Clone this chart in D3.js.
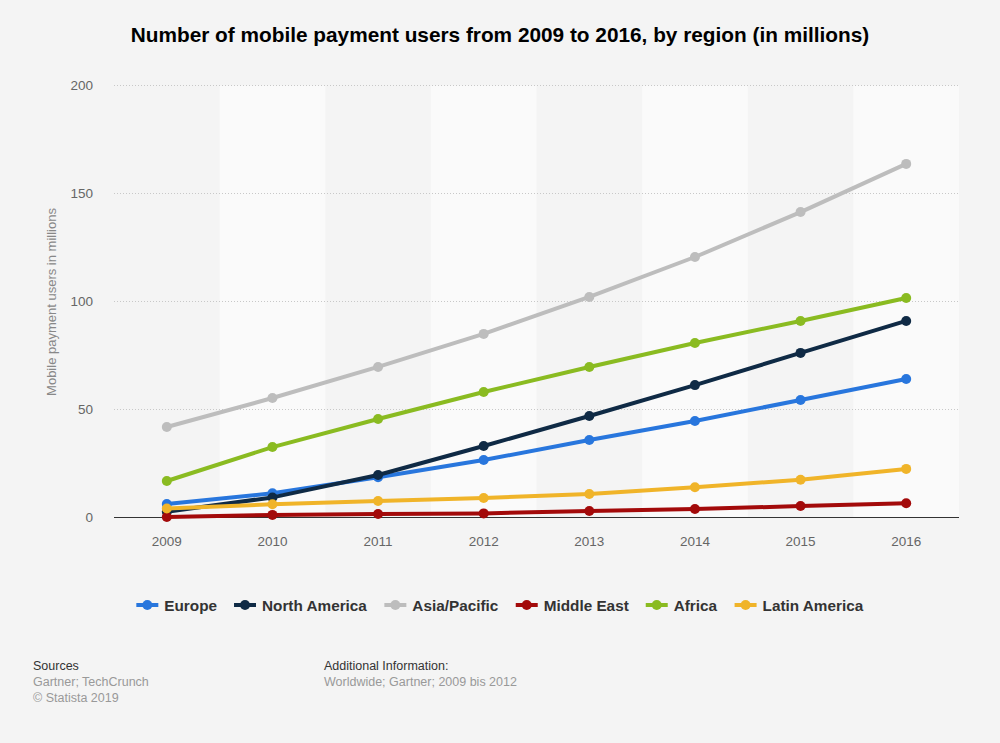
<!DOCTYPE html>
<html><head><meta charset="utf-8">
<script src="https://cdn.jsdelivr.net/npm/d3@7"></script>
<style>body{margin:0;background:#f4f4f4;} svg{display:block;font-family:"Liberation Sans",Arial,sans-serif;}</style>
</head><body><svg id="c" width="1000" height="743"></svg>
<script>
const years = ["2009","2010","2011","2012","2013","2014","2015","2016"];
const yTicks = [0,50,100,150,200];
const seriesNames = ["Europe","North America","Asia/Pacific","Middle East","Africa","Latin America"];
const seriesColors = ["#2876dd","#0f2a45","#bdbdbd","#a30a0a","#8abb21","#f0b429"];
const europe = [6.2,11.2,18.6,26.6,35.9,44.7,54.4,64.1];
const northAmerica = [2.7,9.3,19.7,33.1,47,61.3,76.2,91];
const asiaPacific = [41.9,55.3,69.7,85,102.1,120.6,141.4,163.7];
const middleEast = [0.2,1.2,1.6,1.9,3.0,3.9,5.3,6.6];
const africa = [16.9,32.6,45.6,58.1,69.7,80.8,91,101.6];
const latinAmerica = [4.2,6.1,7.6,9.0,10.9,14.0,17.5,22.5];
const seriesValues = [europe,northAmerica,asiaPacific,middleEast,africa,latinAmerica];

const svg = d3.select("#c");
svg.append("rect").attr("width",1000).attr("height",743).attr("fill","#f4f4f4");

const x = d3.scaleBand().domain(years).range([114,959]).padding(0);
const y = d3.scaleLinear().domain([0,200]).range([517.5,85.5]);

// alternating bands
svg.append("g").selectAll("rect").data(years.filter((d,i)=>i%2===1)).join("rect")
  .attr("x",d=>x(d)).attr("width",x.bandwidth()).attr("y",y(200)).attr("height",y(0)-y(200))
  .attr("fill","#fafafa");

// gridlines
svg.append("g").selectAll("line").data(yTicks.filter(d=>d>0)).join("line")
  .attr("x1",114).attr("x2",959).attr("y1",d=>y(d)).attr("y2",d=>y(d))
  .attr("stroke","#c8c8c8").attr("stroke-dasharray","1,2").attr("stroke-width",1);

// y axis labels
const yAxis = d3.axisLeft(y).tickValues(yTicks).tickSize(0).tickPadding(0);
const yg = svg.append("g").attr("transform","translate(93,0)").call(yAxis);
yg.select(".domain").remove();
yg.selectAll("text").attr("font-size",13.5).attr("fill","#666").attr("font-family","Liberation Sans, Arial, sans-serif");

// x axis
const xAxis = d3.axisBottom(x).tickSize(0).tickPadding(0);
const xg = svg.append("g").attr("transform","translate(0,"+y(0)+")").call(xAxis);
xg.select(".domain").remove();
xg.selectAll("text").attr("dy","0").attr("y",28.5).attr("font-size",13.5).attr("fill","#666").attr("font-family","Liberation Sans, Arial, sans-serif");

// baseline
svg.append("line").attr("x1",114).attr("x2",959).attr("y1",y(0)).attr("y2",y(0)).attr("stroke","#333").attr("stroke-width",1.2);

// y axis title
svg.append("text").attr("transform","translate(56,302) rotate(-90)").attr("text-anchor","middle")
  .attr("font-size",13).attr("fill","#888").text("Mobile payment users in millions");

// lines
const line = d3.line().x((d,i)=>x(years[i])+x.bandwidth()/2).y(d=>y(d));
seriesValues.forEach((vals,si)=>{
  const g = svg.append("g");
  g.append("path").datum(vals).attr("d",line).attr("fill","none").attr("stroke",seriesColors[si]).attr("stroke-width",4).attr("stroke-linejoin","round");
  g.selectAll("circle").data(vals).join("circle")
    .attr("cx",(d,i)=>x(years[i])+x.bandwidth()/2).attr("cy",d=>y(d)).attr("r",5).attr("fill",seriesColors[si]);
});

// title
svg.append("text").attr("x",500).attr("y",42).attr("text-anchor","middle").attr("font-size",20.8).attr("font-weight","bold").attr("fill","#000")
  .text("Number of mobile payment users from 2009 to 2016, by region (in millions)");

// legend
const leg = svg.append("g");
const items = leg.selectAll("g").data(seriesNames).join("g");
items.append("line").attr("x1",0).attr("x2",22).attr("y1",0).attr("y2",0).attr("stroke",(d,i)=>seriesColors[i]).attr("stroke-width",4);
items.append("circle").attr("cx",11).attr("cy",0).attr("r",5).attr("fill",(d,i)=>seriesColors[i]);
items.append("text").attr("x",28).attr("y",5.5).attr("font-size",15.3).attr("font-weight","bold").attr("fill","#333").text(d=>d);
const widths=[];
items.each(function(){ widths.push(this.getBBox().width); });
const gap = 17;
const total = d3.sum(widths)+gap*(widths.length-1);
let start = 500 - total/2;
items.attr("transform",(d,i)=>{ const t="translate("+(start)+",605)"; start += widths[i]+gap; return t; });

// footer
const f = svg.append("g").attr("font-size",12.5);
f.append("text").attr("x",33).attr("y",670).attr("fill","#333").text("Sources");
f.append("text").attr("x",33).attr("y",686).attr("fill","#999").text("Gartner; TechCrunch");
f.append("text").attr("x",33).attr("y",702).attr("fill","#999").text("© Statista 2019");
f.append("text").attr("x",324).attr("y",670).attr("fill","#333").text("Additional Information:");
f.append("text").attr("x",324).attr("y",686).attr("fill","#999").text("Worldwide; Gartner; 2009 bis 2012");
</script></body></html>
